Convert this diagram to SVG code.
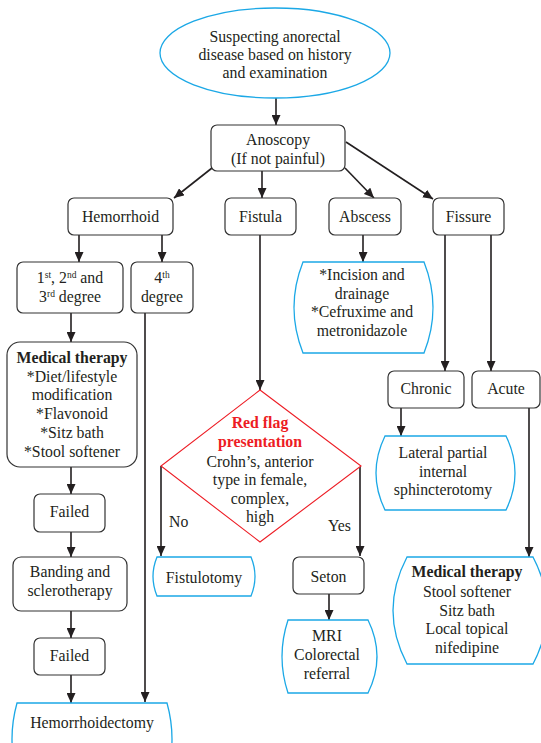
<svg xmlns="http://www.w3.org/2000/svg" width="541" height="743" viewBox="0 0 541 743">
<style>
text{font-family:"Liberation Serif","Times New Roman",serif;font-size:15.8px;fill:#231f20;text-anchor:middle}
.b{font-weight:bold}
.red{fill:#ed1c24;font-weight:bold}
.sup{font-size:9.5px}
.box{fill:#fff;stroke:#333;stroke-width:1.2}
.blue{fill:#fff;stroke:#1ba8e6;stroke-width:1.3}
.con{fill:none;stroke:#231f20;stroke-width:1.6}
.l{text-anchor:start}
</style>
<defs>
<marker id="ah" markerUnits="userSpaceOnUse" markerWidth="10" markerHeight="9" refX="10" refY="4.5" orient="auto">
<path d="M0,0 L10,4.5 L0,9 z" fill="#231f20"/>
</marker>
</defs>
<rect width="541" height="743" fill="#fff"/>

<g id="connectors">
<line class="con" x1="276" y1="98" x2="276" y2="125" marker-end="url(#ah)"/>
<line class="con" x1="212" y1="168" x2="174" y2="198" marker-end="url(#ah)"/>
<line class="con" x1="262" y1="171" x2="262" y2="198" marker-end="url(#ah)"/>
<line class="con" x1="345" y1="168" x2="374" y2="198" marker-end="url(#ah)"/>
<line class="con" x1="346" y1="142" x2="433" y2="199" marker-end="url(#ah)"/>
<line class="con" x1="79" y1="235" x2="79" y2="262" marker-end="url(#ah)"/>
<line class="con" x1="162" y1="235" x2="162" y2="262" marker-end="url(#ah)"/>
<line class="con" x1="71" y1="313" x2="71" y2="342" marker-end="url(#ah)"/>
<line class="con" x1="145" y1="313" x2="145" y2="702" marker-end="url(#ah)"/>
<line class="con" x1="71" y1="467" x2="71" y2="494" marker-end="url(#ah)"/>
<line class="con" x1="71" y1="532" x2="71" y2="557" marker-end="url(#ah)"/>
<line class="con" x1="71" y1="611" x2="71" y2="638" marker-end="url(#ah)"/>
<line class="con" x1="71" y1="675" x2="71" y2="703" marker-end="url(#ah)"/>
<line class="con" x1="260" y1="235" x2="260" y2="390" marker-end="url(#ah)"/>
<line class="con" x1="161" y1="466" x2="161" y2="556" marker-end="url(#ah)"/>
<line class="con" x1="360" y1="466" x2="360" y2="556" marker-end="url(#ah)"/>
<line class="con" x1="329" y1="594" x2="329" y2="620" marker-end="url(#ah)"/>
<line class="con" x1="363" y1="235" x2="363" y2="262" marker-end="url(#ah)"/>
<line class="con" x1="445" y1="235" x2="445" y2="371" marker-end="url(#ah)"/>
<line class="con" x1="491" y1="235" x2="491" y2="371" marker-end="url(#ah)"/>
<line class="con" x1="401" y1="408" x2="401" y2="436" marker-end="url(#ah)"/>
<line class="con" x1="529" y1="408" x2="529" y2="557" marker-end="url(#ah)"/>
<text class="l" x="169" y="527">No</text>
<text class="l" x="328" y="531">Yes</text>
</g>

<g id="start">
<ellipse class="blue" cx="275" cy="53" rx="115" ry="45"/>
<text x="275" y="42">Suspecting anorectal</text>
<text x="275" y="60">disease based on history</text>
<text x="275" y="78">and examination</text>
</g>

<g id="anoscopy">
<rect class="box" x="211" y="125" width="134" height="46" rx="6"/>
<text x="278" y="145">Anoscopy</text>
<text x="278" y="164">(If not painful)</text>
</g>

<g id="hemorrhoid">
<rect class="box" x="68" y="198" width="105" height="37" rx="6"/>
<text x="120.5" y="222">Hemorrhoid</text>
</g>
<g id="fistula">
<rect class="box" x="225" y="198" width="71" height="37" rx="6"/>
<text x="260.5" y="222">Fistula</text>
</g>
<g id="abscess">
<rect class="box" x="329" y="198" width="72" height="37" rx="6"/>
<text x="365" y="222">Abscess</text>
</g>
<g id="fissure">
<rect class="box" x="433" y="198" width="71" height="37" rx="6"/>
<text x="468.5" y="222">Fissure</text>
</g>

<g id="deg123">
<rect class="box" x="17" y="262" width="106" height="51" rx="6"/>
<text x="70" y="283">1<tspan class="sup" dy="-5">st</tspan><tspan dy="5">, 2</tspan><tspan class="sup" dy="-5">nd</tspan><tspan dy="5"> and</tspan></text>
<text x="70" y="302">3<tspan class="sup" dy="-5">rd</tspan><tspan dy="5"> degree</tspan></text>
</g>
<g id="deg4">
<rect class="box" x="131" y="262" width="62" height="51" rx="6"/>
<text x="162" y="283">4<tspan class="sup" dy="-5">th</tspan></text>
<text x="162" y="302">degree</text>
</g>

<g id="medical-left">
<rect class="box" x="7" y="342" width="130" height="125" rx="13"/>
<text class="b" x="72" y="363">Medical therapy</text>
<text x="72" y="381.7">*Diet/lifestyle</text>
<text x="72" y="400.4">modification</text>
<text x="72" y="419">*Flavonoid</text>
<text x="72" y="437.8">*Sitz bath</text>
<text x="72" y="456.5">*Stool softener</text>
</g>

<g id="failed1">
<rect class="box" x="34" y="494" width="71" height="38" rx="6"/>
<text x="69.5" y="517">Failed</text>
</g>
<g id="banding">
<rect class="box" x="13" y="557" width="114" height="54" rx="8"/>
<text x="70" y="577">Banding and</text>
<text x="70" y="596">sclerotherapy</text>
</g>
<g id="failed2">
<rect class="box" x="34" y="638" width="71" height="37" rx="6"/>
<text x="69.5" y="661">Failed</text>
</g>

<g id="hemorrhoidectomy">
<path class="blue" d="M17,703 L167,703 Q177,739 167,775 L17,775 Q7,739 17,703 Z"/>
<text x="92" y="728">Hemorrhoidectomy</text>
</g>

<g id="incision">
<path class="blue" d="M303,262 L424,262 Q442,307.5 424,353 L303,353 Q285,307.5 303,262 Z"/>
<text x="362" y="280">*Incision and</text>
<text x="362" y="298.5">drainage</text>
<text x="362" y="317">*Cefruxime and</text>
<text x="362" y="336">metronidazole</text>
</g>

<g id="redflag">
<polygon points="260,390 361,466 260,542 161,466" fill="#fff" stroke="#ed1c24" stroke-width="1.1"/>
<text class="red" x="260" y="428">Red flag</text>
<text class="red" x="260" y="447">presentation</text>
<text x="260" y="467">Crohn’s, anterior</text>
<text x="260" y="485">type in female,</text>
<text x="260" y="503.5">complex,</text>
<text x="260" y="522">high</text>
</g>

<g id="chronic">
<rect class="box" x="388" y="371" width="76" height="37" rx="6"/>
<text x="426" y="394">Chronic</text>
</g>
<g id="acute">
<rect class="box" x="472" y="371" width="68" height="37" rx="6"/>
<text x="506" y="394">Acute</text>
</g>

<g id="lpis">
<path class="blue" d="M385,436 L506,436 Q524,473 506,510 L385,510 Q367,473 385,436 Z"/>
<text x="443" y="458">Lateral partial</text>
<text x="443" y="476.5">internal</text>
<text x="443" y="495">sphincterotomy</text>
</g>

<g id="fistulotomy">
<path class="blue" d="M157,557 L251,557 Q259,576.5 251,596 L157,596 Q149,576.5 157,557 Z"/>
<text x="204" y="583">Fistulotomy</text>
</g>

<g id="seton">
<rect class="box" x="293" y="557" width="71" height="37" rx="6"/>
<text x="328.5" y="582">Seton</text>
</g>

<g id="mri">
<path class="blue" d="M288,620 L368,620 Q386,656.5 368,693 L288,693 Q276,656.5 288,620 Z"/>
<text x="327" y="641">MRI</text>
<text x="327" y="660">Colorectal</text>
<text x="327" y="679">referral</text>
</g>

<g id="medical-right">
<path class="blue" d="M407,557 L533,557 Q561,610.5 533,664 L407,664 Q379,610.5 407,557 Z"/>
<text class="b" x="467" y="577">Medical therapy</text>
<text x="467" y="597">Stool softener</text>
<text x="467" y="615.5">Sitz bath</text>
<text x="467" y="634">Local topical</text>
<text x="467" y="653">nifedipine</text>
</g>
</svg>
